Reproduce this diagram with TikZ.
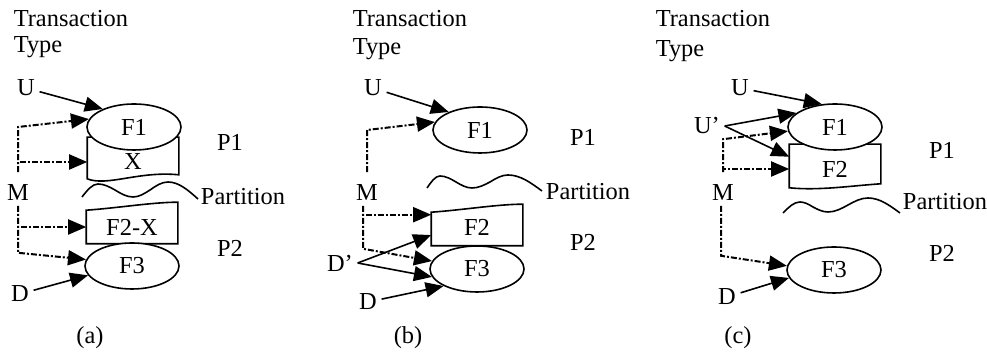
\documentclass[tikz,border=0pt]{standalone}
\usepackage{fontspec}
\setmainfont{Liberation Serif}
\usetikzlibrary{arrows.meta,shapes.geometric}

\begin{document}
\begin{tikzpicture}[x=0.5pt, y=-0.5pt, line width=0.8pt,
  every node/.style={font=\fontsize{12.2}{13}\selectfont, inner sep=2pt},
  frag/.style={ellipse, draw, fill=white, inner sep=0pt, minimum width=47pt, minimum height=23pt},
  fbox/.style={inner sep=0pt, minimum width=45pt},
  arr/.style={-{Triangle[length=9pt,width=7.5pt]}},
  mline/.style={arr, line width=1pt, dash pattern=on 3pt off 1pt on 1pt off 1pt}]
\useasboundingbox (0,0) rectangle (987,356);

% (a) X stays with F1 in P1
\node[anchor=base west] (tta) at (9,27) {Transaction};
\node[anchor=base west] (tya) at (9,53) {Type};
\node[fbox, minimum height=16pt] (Xa) at (133,162) {X};
\draw ([yshift=4pt]Xa.north east) -- ([yshift=4pt]Xa.north west) -- (Xa.south west)
  .. controls +(20,8) and +(-40,-4) .. ([yshift=2pt]Xa.south east) -- cycle;
\node[fbox, minimum height=16pt] (F2Xa) at (132,227) {F2-X};
\draw (F2Xa.north west) .. controls +(30,-2) and +(-25,0) .. ([yshift=4pt]F2Xa.north east)
  -- (F2Xa.south east) -- (F2Xa.south west) -- cycle;
\node[frag] (F1a) at (134,127) {F1};
\node[frag] (F3a) at (132,266) {F3};
\node (Ua) at (26,88) {U};
\node (Ma) at (18,193) {M};
\node (Da) at (20,294) {D};
\node (P1a) at (230,142) {P1};
\node (P2a) at (230,248) {P2};
\node (pta) at (243,197) {Partition};
\node (capa) at (90,338) {(a)};
\draw (82,197) sin (98,184) cos (115,190) sin (133,197) cos (150,190) sin (168,182) cos (198,199);
\draw[arr] (Ua) -- (F1a.150);
\draw[mline] ([yshift=4pt]Ma.north) -- (Ma.north |- F1a.west) -- (F1a.170);
\draw[mline] ([yshift=4pt]Ma.north) |- (Xa.west);
\draw[mline] (Ma.south) |- (F2Xa.west);
\draw[mline] (Ma.south) -- ++(0,47) -- (F3a.172);
\draw[arr] (Da) -- (F3a.192);

% (b) F2 moves to P2
\node[anchor=base west] (ttb) at (348,27) {Transaction};
\node[anchor=base west] (tyb) at (348,55) {Type};
\node[fbox, minimum height=18pt] (F2b) at (477,227) {F2};
\draw ([yshift=-2pt]F2b.north west) .. controls +(30,-2) and +(-25,0) .. ([yshift=2pt]F2b.north east)
  -- (F2b.south east) -- (F2b.south west) -- cycle;
\node[frag] (F1b) at (480,130) {F1};
\node[frag] (F3b) at (477,269) {F3};
\node (Ub) at (373,88) {U};
\node (Mb) at (367,193) {M};
\node (Dpb) at (340,263) {D’};
\node (Db) at (368,302) {D};
\node (P1b) at (583,137) {P1};
\node (P2b) at (583,242) {P2};
\node (ptb) at (588,192) {Partition};
\node (capb) at (408,338) {(b)};
\draw (427,188) sin (440,176) cos (456,182) sin (472,188) cos (490,182) sin (508,175) cos (542,191);
\draw[arr] (Ub) -- (F1b.150);
\draw[mline] ([yshift=4pt]Mb.north) -- (Mb.north |- F1b.west) -- (F1b.170);
\draw[mline] ([xshift=-2pt]Mb.south) |- (F2b.165);
\draw[mline] ([xshift=-2pt]Mb.south) -- ++(0,43) -- (F3b.170);
\draw[arr] (Dpb.east) -- (F2b.190);
\draw[arr] (Dpb.east) -- (F3b.190);
\draw[arr] (Db) -- (F3b.207);

% (c) F2 moves to P1
\node[anchor=base west] (ttc) at (651,27) {Transaction};
\node[anchor=base west] (tyc) at (651,57) {Type};
\node[fbox, minimum height=18pt] (F2c) at (835,169) {F2};
\draw ([yshift=3pt]F2c.north east) -- ([yshift=3pt]F2c.north west) -- (F2c.south west)
  .. controls +(30,3) and +(-30,2) .. ([yshift=2pt]F2c.south east) -- cycle;
\node[frag] (F1c) at (835,127) {F1};
\node[frag] (F3c) at (834,270) {F3};
\node (Uc) at (740,88) {U};
\node (Upc) at (707,126) {U’};
\node (Mc) at (723,193) {M};
\node (Dc) at (727,297) {D};
\node (P1c) at (942,150) {P1};
\node (P2c) at (942,253) {P2};
\node (ptc) at (945,202) {Partition};
\node (capc) at (738,338) {(c)};
\draw (783,213) sin (800,202) cos (813,207) sin (828,212) cos (848,205) sin (868,198) cos (900,213);
\draw[arr] (Uc) -- (F1c.120);
\draw[arr] (Upc.east) -- (F1c.160);
\draw[arr] (Upc.east) -- (F2c.165);
\draw[mline] ([yshift=4pt]Mc.north) -- ++(0,-33) -- (F1c.185);
\draw[mline] ([yshift=4pt]Mc.north) |- (F2c.west);
\draw[mline] ([xshift=-1pt]Mc.south) -- ++(0,50) -- (F3c.175);
\draw[arr] (Dc) -- (F3c.190);
\end{tikzpicture}
\end{document}
